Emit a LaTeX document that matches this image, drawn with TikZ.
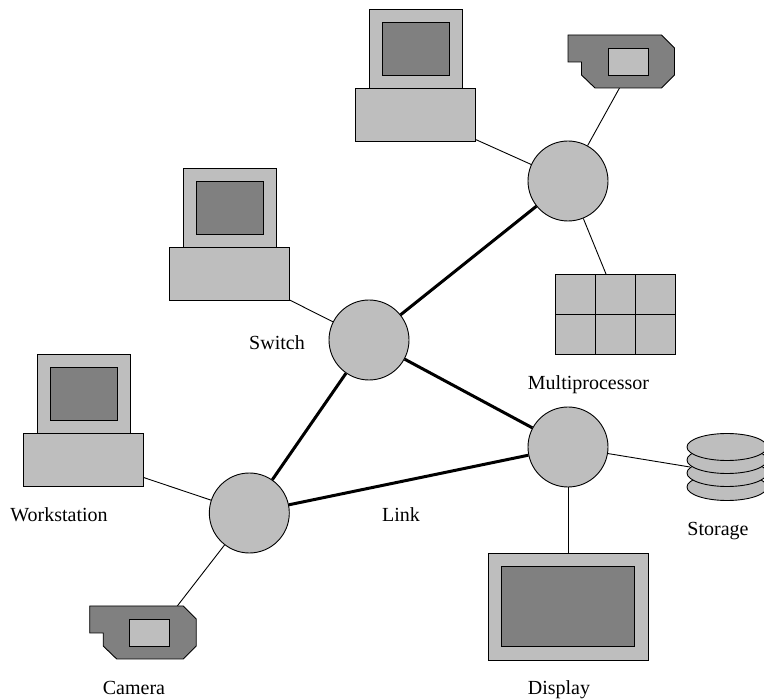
\documentclass[tikz,border=0pt]{standalone}
\usepackage{fontspec}
\setmainfont{Liberation Serif}
\definecolor{lg}{gray}{0.745}
\definecolor{dg}{gray}{0.5}
\tikzset{
  x=1pt,y=-1pt,
  hub/.style={circle,draw=black,fill=lg,line width=0.9pt,minimum size=80pt,inner sep=0pt},
  thinlink/.style={draw=black,line width=0.9pt},
  thicklink/.style={draw=black,line width=3pt},
  light/.style={draw=black,fill=lg,line width=0.9pt},
  dark/.style={draw=black,fill=dg,line width=0.9pt},
  lab/.style={font=\fontsize{20}{24}\selectfont,inner sep=0pt,anchor=base}
}
\newcommand{\wstation}[2]{%
  \path[light] (#1+13.5,#2-79) rectangle (#1+106.5,#2);
  \path[dark] (#1+27,#2-66) rectangle (#1+93.5,#2-13);
  \path[light] (#1,#2) rectangle (#1+120,#2+53.5);
}
\newcommand{\cameraicon}[2]{%
  \path[dark] (#1,#2) -- (#1+93.5,#2) -- (#1+106.5,#2+13) -- (#1+106.5,#2+40) -- (#1+93.5,#2+53) -- (#1+27,#2+53) -- (#1+13.5,#2+40) -- (#1+13.5,#2+27) -- (#1,#2+27) -- cycle;
  \path[light] (#1+40,#2+13) rectangle (#1+80,#2+40);
}
\begin{document}
\begin{tikzpicture}
\useasboundingbox (0,0) rectangle (764,700);
% hubs
\node[hub] (h1) at (568,181) {};
\node[hub] (h2) at (369,340) {};
\node[hub] (h3) at (249.3,513) {};
\node[hub] (h4) at (568,447) {};
% link end points on the icons
\coordinate (w1) at (143.6,477.5);
\coordinate (w2) at (475.6,139.5);
\coordinate (w3) at (289.6,300);
\coordinate (c1) at (619.5,88);
\coordinate (c2) at (177.3,606);
\coordinate (mp) at (606,274);
\coordinate (st) at (690,467);
\coordinate (dp) at (568,553);
% links
\path[thinlink] (w1) -- (h3);
\path[thinlink] (w2) -- (h1);
\path[thinlink] (w3) -- (h2);
\path[thinlink] (c1) -- (h1);
\path[thinlink] (c2) -- (h3);
\path[thinlink] (mp) -- (h1);
\path[thinlink] (st) -- (h4);
\path[thinlink] (dp) -- (h4);
\path[thicklink] (h1) -- (h2);
\path[thicklink] (h2) -- (h3);
\path[thicklink] (h2) -- (h4);
\path[thicklink] (h3) -- (h4);
% workstations
\wstation{23.6}{433}
\wstation{355.6}{88}
\wstation{169.6}{247}
% cameras
\cameraicon{568}{35}
\cameraicon{89.7}{606}
% multiprocessor
\foreach \cx in {555,595,635}
  \foreach \cy in {274,314}
    \path[light] (\cx,\cy) rectangle ++(40,40);
% storage
\foreach \sy in {487,473,460,447}
  \path[light] (727,\sy) ellipse [x radius=40,y radius=13.5];
% display
\path[light] (488,553) rectangle (648,660);
\path[dark] (501,566) rectangle (634,646);
% labels
\node[lab] (l1) at (277,350) {Switch};
\node[lab] (l2) at (59,522) {Workstation};
\node[lab] (l3) at (401,522) {Link};
\node[lab] (l4) at (134,694.5) {Camera};
\node[lab] (l5) at (559,694.5) {Display};
\node[lab] (l6) at (718,535.5) {Storage};
\node[lab] (l7) at (588.5,390) {Multiprocessor};
\end{tikzpicture}
\end{document}
